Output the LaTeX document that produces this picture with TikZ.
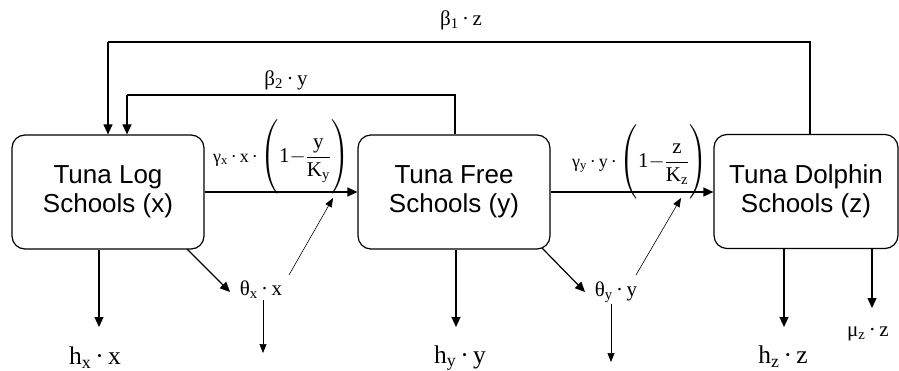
\documentclass[tikz,border=0pt]{standalone}
\usepackage{amsmath}
\usepackage{fontspec}
\setmainfont{Liberation Serif}
\newfontfamily\boxfont{Liberation Sans}
\usetikzlibrary{arrows.meta,calc}
\newcommand{\tallstrut}{\rule[-29pt]{0pt}{64pt}}
\newcommand{\satfrac}[2]{{\fontsize{21}{23}\selectfont$\left(\tallstrut\text{1}{-}\dfrac{\text{#1}}{\text{K}_{\text{#2}}}\right)$}}
\begin{document}
\begin{tikzpicture}[x=1pt,y=-1pt,
  box/.style={draw,line width=1.2pt,rounded corners=13pt,minimum height=114pt,
    align=center,font=\boxfont\fontsize{26}{29}\selectfont,inner sep=0pt},
  arr/.style={line width=1.2pt,-{Triangle[length=10pt,width=9pt]}},
  tarr/.style={line width=0.6pt,-{Triangle[length=9pt,width=7pt]}},
  lab/.style={font=\fontsize{21}{23}\selectfont,inner sep=1pt},
  flab/.style={font=\fontsize{18}{20}\selectfont,inner sep=0pt},
  big/.style={font=\fontsize{25.5}{28}\selectfont,inner sep=1pt}]
\useasboundingbox[fill=white] (0,0) rectangle (899,371);

% boxes
\node[box,minimum width=192pt] (b1) at (108,192) {Tuna Log\\Schools (x)};
\node[box,minimum width=192pt] (b2) at (454,192) {Tuna Free\\Schools (y)};
\node[box,minimum width=184pt] (b3) at (806,191.5) {Tuna Dolphin\\Schools (z)};

% feedback coordinates
\coordinate (t1) at (810,42);
\coordinate (d1) at (108,42);
\coordinate (t2) at (455,95);
\coordinate (d2) at (127,95);

% labels
\node[lab] (lb1) at (461,20) {β\textsubscript{1}\,·\,z};
\node[lab] (lb2) at (286,80) {β\textsubscript{2}\,·\,y};
\node[flab,anchor=west] (lg1) at (213,157) {γ\textsubscript{x}\,·\,x\,·\,\satfrac{y}{y}};
\node[flab,anchor=west] (lg2) at (572,162) {γ\textsubscript{y}\,·\,y\,·\,\satfrac{z}{z}};
\node[lab] (tx) at (261,290) {θ\textsubscript{x}\,·\,x};
\node[lab] (ty) at (616,292) {θ\textsubscript{y}\,·\,y};
\node[big] (hx) at (95,358) {h\textsubscript{x}\,·\,x};
\node[big] (hy) at (460,358) {h\textsubscript{y}\,·\,y};
\node[big] (hz) at (783,357) {h\textsubscript{z}\,·\,z};
\node[lab] (mz) at (868,334) {μ\textsubscript{z}\,·\,z};

% transfer arrows between boxes
\draw[arr] (b1.east |- 0,192) -- (b2.west |- 0,192);
\draw[arr] (b2.east |- 0,192) -- (b3.west |- 0,192);

% feedback arrows
\draw[line width=1.2pt] (b3.north -| t1) -- (t1) -- (d1);
\draw[arr] (d1) -- (b1.north -| d1);
\draw[line width=1.2pt] (b2.north -| t2) -- (t2) -- (d2);
\draw[arr] (d2) -- (b1.north -| d2);

% harvest arrows
\coordinate (ex) at (99,327);
\coordinate (ey) at (456,327);
\coordinate (ez) at (784,327);
\coordinate (em) at (872,308);
\draw[arr] (b1.south -| ex) -- (ex);
\draw[arr] (b2.south -| ey) -- (ey);
\draw[arr] (b3.south -| ez) -- (ez);
\draw[arr] (b3.south -| em) -- (em);

% theta arrows
\coordinate (sx) at (187,249);
\coordinate (ax) at (230,292);
\draw[arr] (sx) -- (ax);
\coordinate (ux) at (289,275);
\coordinate (vx) at (333,198);
\draw[tarr] (ux) -- (vx);
\coordinate (wx) at (263,353);
\draw[tarr] (tx.south -| wx) -- (wx);

\coordinate (sy) at (542,248);
\coordinate (ay) at (585,292);
\draw[arr] (sy) -- (ay);
\coordinate (uy) at (636,275);
\coordinate (vy) at (681,198);
\draw[tarr] (uy) -- (vy);
\coordinate (wy) at (611,362);
\draw[tarr] (ty.south -| wy) -- (wy);
\end{tikzpicture}
\end{document}
